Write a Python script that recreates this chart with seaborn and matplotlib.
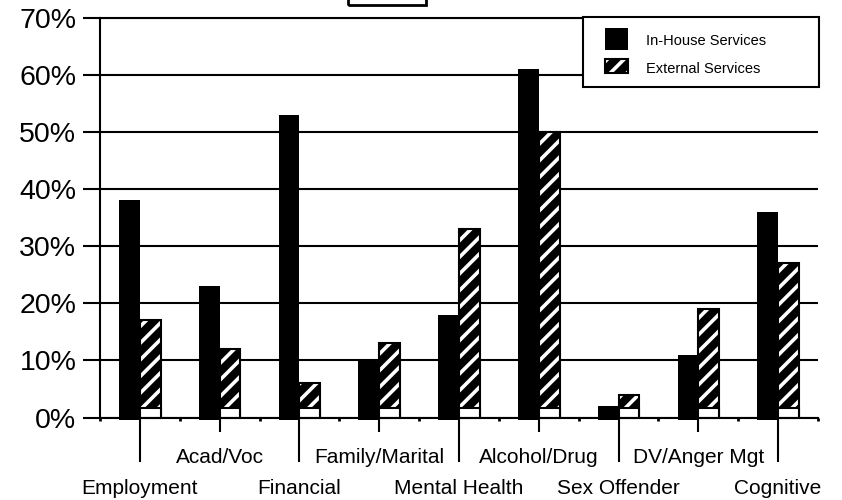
import numpy as np
import pandas as pd
import matplotlib
matplotlib.use("Agg")
import matplotlib.pyplot as plt
from matplotlib.patches import Rectangle
import seaborn as sns

# ---- data -------------------------------------------------------------
categories = ["Employment", "Acad/Voc", "Financial", "Family/Marital",
              "Mental Health", "Alcohol/Drug", "Sex Offender",
              "DV/Anger Mgt", "Cognitive"]
in_house = [38, 23, 53, 10, 18, 61, 2, 11, 36]
external = [17, 12, 6, 13, 33, 50, 4, 19, 27]
series = ["In-House Services", "External Services"]
y_ticks = [0, 10, 20, 30, 40, 50, 60, 70]
y_tick_labels = [f"{v}%" for v in y_ticks]

# ---- style ------------------------------------------------------------
sns.set_style("white")
plt.rcParams["font.family"] = ["Liberation Sans", "DejaVu Sans"]
plt.rcParams["hatch.linewidth"] = 2.6

LW = 1.5          # line width in points for axes, grid and outlines
W, H = 842, 500   # canvas size in pixels


def fx(px):
    return px / W


def fy(py):
    return 1 - py / H


fig = plt.figure(figsize=(W / 100, H / 100), dpi=100)
ax = fig.add_axes([fx(100), fy(417.5), fx(818) - fx(100), fy(17.5) - fy(417.5)])

df = pd.DataFrame({
    "category": categories * 2,
    "service": [series[0]] * len(categories) + [series[1]] * len(categories),
    "value": in_house + external,
})

sns.barplot(data=df, x="category", y="value", hue="service",
            order=categories, hue_order=series,
            palette={series[0]: "black", series[1]: "black"},
            saturation=1, width=0.52, dodge=True, errorbar=None,
            legend=False, ax=ax)

ax.set_xlim(-0.5, len(categories) - 0.5)
ax.set_ylim(0, 70)


def style_hatched(p, trans):
    """Black bar with white diagonal stripes and a black outline."""
    p.set_facecolor("black")
    p.set_hatch("//")
    if hasattr(p, "set_hatchcolor"):
        p.set_hatchcolor("white")
        p.set_edgecolor("black")
        p.set_linewidth(LW)
    else:
        p.set_edgecolor("white")
        p.set_linewidth(0)
        ax.add_patch(Rectangle(p.get_xy(), p.get_width(), p.get_height(),
                               transform=trans, fill=False,
                               ec="black", lw=LW, zorder=p.get_zorder() + 0.1,
                               clip_on=False))


# solid in-house bars sit slightly below the baseline
solid, striped = ax.containers[0], ax.containers[1]
for p in solid:
    p.set_facecolor("black")
    p.set_edgecolor("black")
    p.set_linewidth(0)
    p.set_y(-0.45)
    p.set_height(p.get_height() + 0.45)
    p.set_clip_on(False)

# striped external bars with a plain white foot
for p in striped:
    style_hatched(p, ax.transData)
    ax.add_patch(Rectangle((p.get_x(), 0), p.get_width(), 1.75,
                           fc="white", ec="black", lw=LW,
                           zorder=p.get_zorder() + 0.2))

# ---- axes, grid, ticks -------------------------------------------------
for side in ("left", "top", "bottom"):
    ax.spines[side].set_visible(True)
    ax.spines[side].set_color("black")
    ax.spines[side].set_linewidth(LW)
ax.spines["right"].set_visible(False)

ax.set_axisbelow(True)
ax.yaxis.grid(True, color="black", linewidth=LW)
ax.xaxis.grid(False)

ax.set_yticks(y_ticks, y_tick_labels)
ax.tick_params(axis="y", left=True, length=12, width=LW, pad=5,
               labelsize=20.5, colors="black", direction="out")

ax.set_xticks(range(len(categories)), categories)
ax.set_xticks(np.arange(-0.5, len(categories), 1.0), minor=True)
ax.tick_params(axis="x", which="major", bottom=True, length=0, width=LW,
               labelsize=15, colors="black", direction="out")
ax.tick_params(axis="x", which="minor", bottom=True, length=2.5, width=2,
               colors="black", direction="out")
# labels alternate between two rows; long leader ticks reach the lower row
for i, t in enumerate(ax.xaxis.get_major_ticks()):
    if i % 2:
        t.set_pad(22)
        t.tick1line.set_markersize(10)
    else:
        t.set_pad(44.5)
        t.tick1line.set_markersize(31.5)
    t.tick1line.set_markeredgewidth(LW)

ax.set_xlabel("")
ax.set_ylabel("")

# ---- legend ------------------------------------------------------------
ax.add_patch(Rectangle((fx(583), fy(87)), fx(819) - fx(583), fy(17) - fy(87),
                       transform=fig.transFigure, fc="white", ec="black",
                       lw=LW, zorder=5, clip_on=False))
ax.add_patch(Rectangle((fx(605), fy(50)), fx(628) - fx(605), fy(28) - fy(50),
                       transform=fig.transFigure, fc="black", ec="black",
                       lw=0, zorder=6, clip_on=False))
key = Rectangle((fx(605), fy(73)), fx(628) - fx(605), fy(59) - fy(73),
                transform=fig.transFigure, zorder=6, clip_on=False)
ax.add_patch(key)
style_hatched(key, fig.transFigure)
for label, py in zip(series, (41, 69)):
    ax.text(fx(646), fy(py), label, transform=fig.transFigure,
            fontsize=10.5, va="center", ha="left", color="black", zorder=7)

# ---- empty title frame at the top edge ----------------------------------
fig.patches.append(Rectangle((fx(348), fy(5)), fx(426) - fx(348), fy(-10) - fy(5),
                             transform=fig.transFigure, fill=False,
                             ec="black", lw=2))

fig.savefig("out.png", dpi=100)
